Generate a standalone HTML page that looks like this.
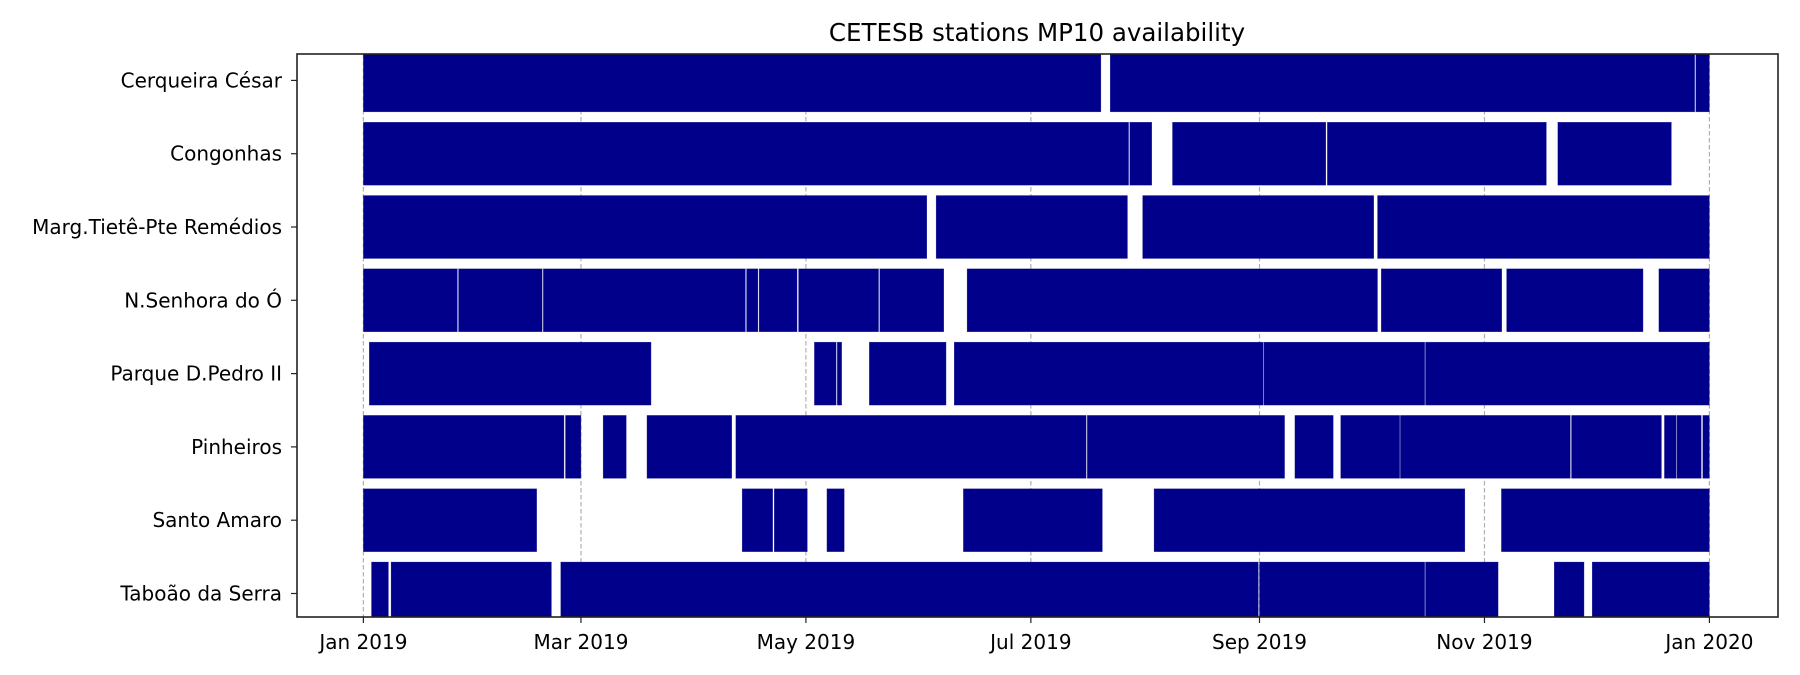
<!DOCTYPE html>
<html><head><meta charset="utf-8"><style>
body{margin:0;background:#fff;}
svg{display:block;font-family:"DejaVu Sans","Liberation Sans",sans-serif;}
</style></head><body>
<svg id="chart" width="1800" height="675" viewBox="0 0 1800 675" xmlns="http://www.w3.org/2000/svg">
<rect width="1800" height="675" fill="#fff"/>
<text x="1037" y="41" font-size="24.5" text-anchor="middle" fill="#000">CETESB stations MP10 availability</text>
<g id="grid"></g>
<g id="bars"></g>
<rect x="297" y="54" width="1481" height="563" fill="none" stroke="#222" stroke-width="1.6"/>
<g id="axes"></g>
</svg>
<script>
const stations = ["Cerqueira César","Congonhas","Marg.Tietê-Pte Remédios","N.Senhora do Ó","Parque D.Pedro II","Pinheiros","Santo Amaro","Taboão da Serra"];
const cerqueira = [[0,200],[202.5,361],[361.3,365]];
const congonhas = [[0,207.5],[207.8,213.8],[219.4,261],[261.4,320.8],[323.9,354.7]];
const margTiete = [[0,152.8],[155.3,207.2],[211.3,274],[275,365]];
const nSenhora = [[0,25.5],[25.8,48.5],[48.8,103.6],[103.9,107],[107.3,117.6],[118,139.7],[140,157.4],[163.7,275],[276,308.7],[310,347],[351.3,365]];
const parque = [[1.6,78],[122.3,128.2],[128.5,129.7],[137.2,158],[160.2,244],[244.2,287.8],[288,365]];
const pinheiros = [[0,54.4],[54.8,59],[65,71.3],[76.9,99.9],[101,196],[196.3,249.8],[252.6,263],[265,281],[281.2,327.3],[327.6,352],[352.8,356],[356.2,362.8],[363.2,365]];
const santoAmaro = [[0,47],[102.7,111],[111.4,120.4],[125.7,130.4],[162.7,200.4],[214.4,298.7],[308.6,365]];
const taboao = [[2.2,6.8],[7.5,51],[53.5,242.7],[243,287.8],[288,307.7],[322.9,331],[333.2,365]];
const seriesList = [cerqueira,congonhas,margTiete,nSenhora,parque,pinheiros,santoAmaro,taboao];
const tickDays = [0,59,120,181,243,304,365];
const tickLabels = ["Jan 2019","Mar 2019","May 2019","Jul 2019","Sep 2019","Nov 2019","Jan 2020"];

const NS="http://www.w3.org/2000/svg";
const L=297,R=1778,T=54,B=617;
const xMin=-18, xMax=383.6;
function xs(d){return L+(d-xMin)/(xMax-xMin)*(R-L);}
function ys(i){return 80.4+i*73.3;}
const barH=63;
function mk(tag,attrs,parent){const e=document.createElementNS(NS,tag);for(const k in attrs)e.setAttribute(k,attrs[k]);parent.appendChild(e);return e;}
const grid=document.getElementById('grid'),bars=document.getElementById('bars'),axes=document.getElementById('axes');
tickDays.forEach((d,i)=>{
  const x=xs(d);
  const g=mk('line',{x1:x,x2:x,y1:T,y2:B,stroke:'#b0b0b0','stroke-width':1.2,'stroke-dasharray':'4.5,2.5'},grid);
  
  
  const t=mk('line',{x1:x,x2:x,y1:B,y2:B+6,stroke:'#222','stroke-width':1.2},axes);
  
  
  const lb=mk('text',{x:x,y:B+32,'font-size':20,'text-anchor':'middle',fill:'#000'},axes);
  lb.textContent=tickLabels[i];
  
  
});
const clip=mk('clipPath',{id:'pc'},document.getElementById('chart'));
mk('rect',{x:L,y:T,width:R-L,height:B-T},clip);
bars.setAttribute('clip-path','url(#pc)');
seriesList.forEach((segs,i)=>{
  const y=ys(i);
  segs.forEach(s=>{
    const r=mk('rect',{x:xs(s[0]),y:y-barH/2,width:Math.max(0.5,xs(s[1])-xs(s[0])),height:barH,fill:'#00008b',stroke:'#3a3aa0','stroke-width':0.3},bars);
    
    
  });
  const t=mk('line',{x1:L-6,x2:L,y1:y,y2:y,stroke:'#222','stroke-width':1.2},axes);
  
  
  const lb=mk('text',{x:L-15,y:y+7,'font-size':20,'text-anchor':'end',fill:'#000'},axes);
  lb.textContent=stations[i];
  
  
});
</script>
</body></html>
